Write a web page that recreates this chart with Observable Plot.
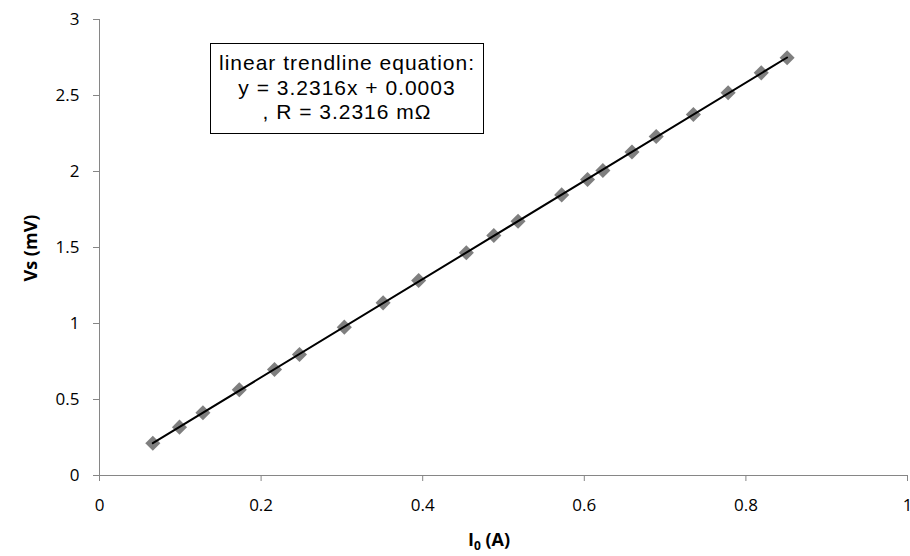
<!DOCTYPE html>
<html><head><meta charset="utf-8">
<script src="https://cdn.jsdelivr.net/npm/d3@7"></script>
<script src="https://cdn.jsdelivr.net/npm/@observablehq/plot@0.6"></script>
<style>
html,body{margin:0;padding:0;background:#fff;overflow:hidden}
body{font-family:"Open Sans",sans-serif}
#wrap{position:relative;width:910px;height:556px}
#box{position:absolute;left:210px;top:43px;width:274px;height:91px;border:1.5px solid #000;text-align:center;font-family:"Liberation Sans",Arial,sans-serif;font-size:21px;letter-spacing:1px;line-height:24.5px;padding-top:7px;box-sizing:border-box;background:#fff;color:#000;white-space:nowrap}
#xl{position:absolute;left:389px;width:200px;top:527px;text-align:center;font-weight:bold;font-size:18px;color:#000}
#xl sub{font-size:12px;vertical-align:-4px;line-height:0}
#yl{position:absolute;left:-70px;width:200px;top:236px;text-align:center;font-weight:bold;font-size:18px;transform:rotate(-90deg);color:#000}
</style>
</head><body>
<div id="wrap"></div>
<script>
const currentA = [0.066,0.099,0.128,0.173,0.2166,0.2475,0.303,0.351,0.395,0.454,0.488,0.518,0.572,0.604,0.623,0.659,0.689,0.735,0.778,0.819,0.851];
const voltageMV = [0.2125,0.318,0.4125,0.564,0.697,0.796,0.976,1.136,1.283,1.465,1.579,1.673,1.846,1.947,2.007,2.128,2.230,2.375,2.518,2.649,2.748];
const xTicks = [0,0.2,0.4,0.6,0.8,1];
const yTicks = [0,0.5,1,1.5,2,2.5,3];
const boxLines = ["linear trendline equation:", "y = 3.2316x + 0.0003", ", R = 3.2316 mΩ"];
const xLabel = "I<sub>0</sub> (A)";
const yLabel = "Vs (mV)";

const data = currentA.map((x,i)=>({x, y: voltageMV[i]}));
const axisColor = "#868686";
const fmt = d => String(d);

const chart = Plot.plot({
  width: 910, height: 556,
  marginLeft: 99, marginRight: 3, marginTop: 19, marginBottom: 81,
  style: {fontFamily: '"Open Sans", sans-serif', fontSize: "17px", color: "#000", background: "#fff", overflow: "visible"},
  x: {domain: [0,1]},
  y: {domain: [0,3]},
  marks: [
    Plot.ruleX([0], {stroke: axisColor, strokeWidth: 1}),
    Plot.ruleY([0], {stroke: axisColor, strokeWidth: 1}),
    Plot.axisX({ticks: xTicks, tickFormat: fmt, tickSize: 6, tickPadding: 17, stroke: axisColor, label: null, fill: "#000"}),
    Plot.axisY({ticks: yTicks, tickFormat: fmt, tickSize: 6, tickPadding: 14, stroke: axisColor, label: null, fill: "#000"}),
    Plot.dot(data, {x: "x", y: "y", symbol: "diamond2", fill: "#7f7f7f", stroke: "none", r: 6.8}),
    Plot.linearRegressionY(data, {x: "x", y: "y", stroke: "#000", strokeWidth: 2, ci: 0})
  ]
});
const wrap = document.getElementById("wrap");
wrap.appendChild(chart);
const box = document.createElement("div");
box.id = "box";
box.innerHTML = boxLines.map(s=>`<div>${s}</div>`).join("");
wrap.appendChild(box);
const xl = document.createElement("div"); xl.id="xl"; xl.innerHTML = xLabel; wrap.appendChild(xl);
const yl = document.createElement("div"); yl.id="yl"; yl.textContent = yLabel; wrap.appendChild(yl);
</script>
</body></html>
